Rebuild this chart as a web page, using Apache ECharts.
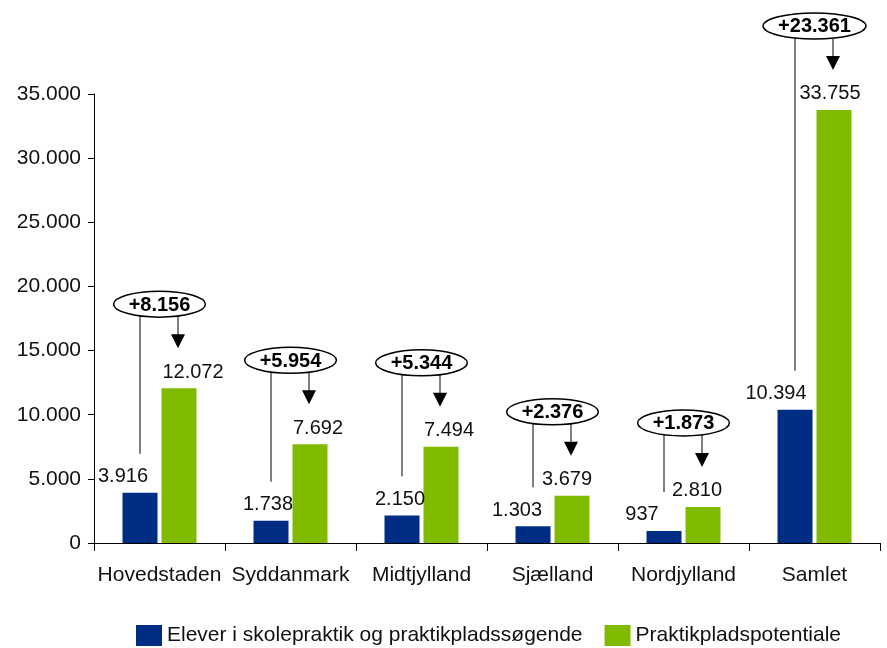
<!DOCTYPE html>
<html>
<head>
<meta charset="utf-8">
<script src="https://cdn.jsdelivr.net/npm/echarts@6/dist/echarts.min.js"></script>
<style>
  html, body { margin: 0; padding: 0; background: #fff; }
  #echart { width: 887px; height: 648px; }
</style>
</head>
<body>
<div id="echart"></div>
<script>
        const regions = ['Hovedstaden', 'Syddanmark', 'Midtjylland', 'Sjælland', 'Nordjylland', 'Samlet'];
        const elever = [3916, 1738, 2150, 1303, 937, 10394];
        const potentiale = [12072, 7692, 7494, 3679, 2810, 33755];
        const yTicks = [0, 5000, 10000, 15000, 20000, 25000, 30000, 35000];

        // små forskydninger af værdietiketter, som i originalen
        const blueShift = [-17, -3, -2, -16, -22, -19];
        const greenShift = [14, 8, 8, -5, -6, -4];

        const FONT = '"Liberation Sans", Arial, sans-serif';
        const BLUE = '#002d84';
        const GREEN = '#80bb00';
        const BAR_W = 35;
        const BAR_GAP = 4;

        const chart = echarts.init(document.getElementById('echart'));

        function fmt(v) {
            return String(v).replace(/\B(?=(\d{3})+(?!\d))/g, '.');
        }

        const measureCtx = document.createElement('canvas').getContext('2d');
        function textWidth(txt, font) {
            measureCtx.font = font;
            return measureCtx.measureText(txt).width;
        }

        const annotData = regions.map((r, i) => [i, elever[i], potentiale[i]]);

        function renderAnnot(params, api) {
            const idx = api.value(0);
            const blue = api.value(1);
            const green = api.value(2);
            const half = (BAR_W + BAR_GAP) / 2;

            const center = api.coord([idx, green]);
            const cx = center[0];
            const greenTop = center[1];
            const blueTop = api.coord([idx, blue])[1];
            const bx = cx - half;
            const gx = cx + half - 1;

            const label = '+' + fmt(green - blue);
            const boldFont = 'bold 20px ' + FONT;
            const rx = textWidth(label, boldFont) / 2 + 15;
            const ry = 13;
            const cy = greenTop - 84;

            const edgeY = (x) => {
                const d = (x - cx) / rx;
                return cy + ry * Math.sqrt(Math.max(0, 1 - d * d));
            };

            const tipY = greenTop - 40;
            const headH = 14;
            const headW = 7;

            return {
                type: 'group',
                children: [
                    {
                        type: 'line',
                        shape: { x1: bx, y1: edgeY(bx), x2: bx, y2: blueTop - 39 },
                        style: { stroke: '#000', lineWidth: 1 }
                    },
                    {
                        type: 'line',
                        shape: { x1: gx, y1: edgeY(gx), x2: gx, y2: tipY - headH + 1 },
                        style: { stroke: '#000', lineWidth: 1 }
                    },
                    {
                        type: 'polygon',
                        shape: { points: [[gx - headW, tipY - headH], [gx + headW, tipY - headH], [gx, tipY]] },
                        style: { fill: '#000' }
                    },
                    {
                        type: 'ellipse',
                        shape: { cx: cx, cy: cy, rx: rx, ry: ry },
                        style: { fill: '#fff', stroke: '#000', lineWidth: 1.5 }
                    },
                    {
                        type: 'text',
                        style: {
                            text: label,
                            x: cx,
                            y: cy + 1,
                            align: 'center',
                            verticalAlign: 'middle',
                            font: boldFont,
                            fill: '#000'
                        }
                    }
                ]
            };
        }

        const option = {
            animation: false,
            backgroundColor: '#fff',
            textStyle: { fontFamily: FONT },
            grid: { left: 94, right: 7, top: 94, bottom: 105, containLabel: false },
            legend: {
                left: 131,
                top: 620,
                itemWidth: 26,
                itemHeight: 21,
                itemGap: 22,
                icon: 'rect',
                textStyle: { fontSize: 21, color: '#111', fontFamily: FONT },
                data: ['Elever i skolepraktik og praktikpladssøgende', 'Praktikpladspotentiale']
            },
            xAxis: {
                type: 'category',
                data: regions,
                axisLine: { lineStyle: { color: '#000', width: 1 } },
                axisTick: { show: true, interval: 0, length: 8, lineStyle: { color: '#000' } },
                axisLabel: { interval: 0, fontSize: 21, color: '#111', margin: 22, fontFamily: FONT }
            },
            yAxis: {
                type: 'value',
                min: yTicks[0],
                max: yTicks[yTicks.length - 1],
                interval: yTicks[1] - yTicks[0],
                splitLine: { show: false },
                axisLine: { show: true, lineStyle: { color: '#000', width: 1 } },
                axisTick: { show: true, length: 6, lineStyle: { color: '#000' } },
                axisLabel: { fontSize: 21, color: '#111', margin: 13, fontFamily: FONT, formatter: fmt }
            },
            series: [
                {
                    name: 'Elever i skolepraktik og praktikpladssøgende',
                    type: 'bar',
                    barWidth: BAR_W,
                    barGap: (BAR_GAP / BAR_W * 100).toFixed(1) + '%',
                    itemStyle: { color: BLUE },
                    data: elever.map((v, i) => ({
                        value: v,
                        label: { offset: [blueShift[i], 0] }
                    })),
                    label: {
                        show: true, position: 'top', distance: 6,
                        fontSize: 20, color: '#111', fontFamily: FONT,
                        formatter: (p) => fmt(p.value)
                    }
                },
                {
                    name: 'Praktikpladspotentiale',
                    type: 'bar',
                    barWidth: BAR_W,
                    itemStyle: { color: GREEN },
                    data: potentiale.map((v, i) => ({
                        value: v,
                        label: { offset: [greenShift[i], 0] }
                    })),
                    label: {
                        show: true, position: 'top', distance: 6,
                        fontSize: 20, color: '#111', fontFamily: FONT,
                        formatter: (p) => fmt(p.value)
                    }
                },
                {
                    type: 'custom',
                    silent: true,
                    z: 10,
                    renderItem: renderAnnot,
                    encode: { x: 0, y: 2 },
                    data: annotData
                }
            ]
        };

        chart.setOption(option);
</script>
</body>
</html>
